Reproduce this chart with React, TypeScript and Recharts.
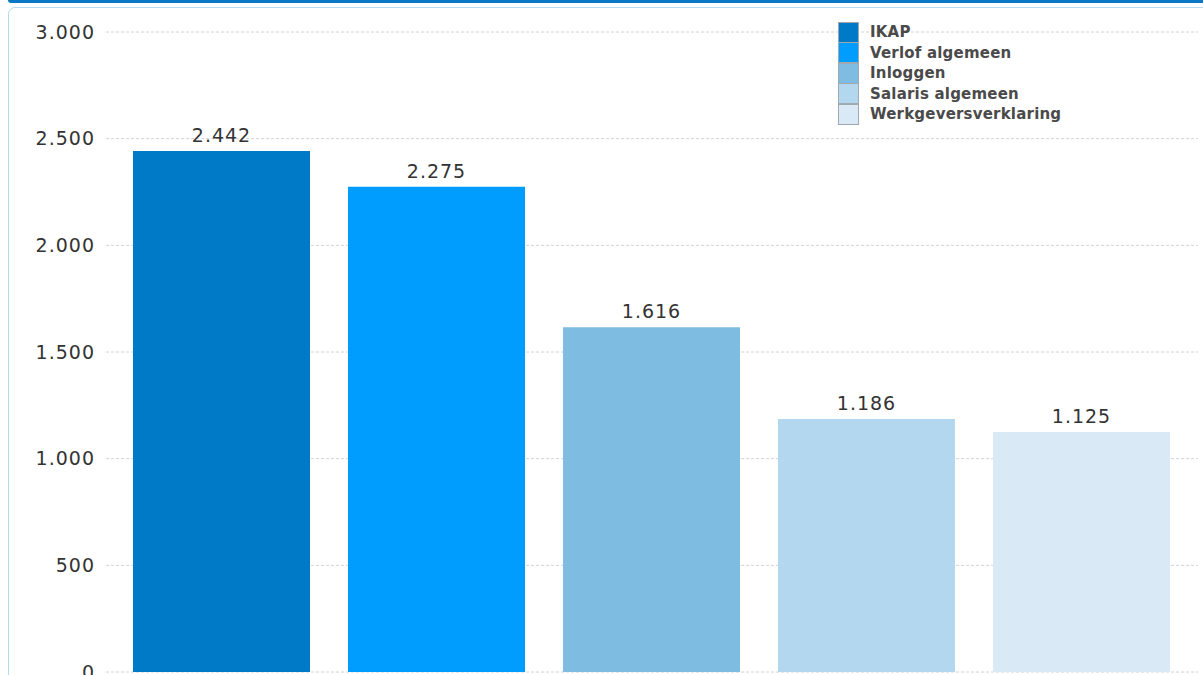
import React from "react";
import { BarChart, Bar, XAxis, YAxis, CartesianGrid, Cell, LabelList } from "recharts";

const categories = ["IKAP", "Verlof algemeen", "Inloggen", "Salaris algemeen", "Werkgeversverklaring"];
const values = [2442, 2275, 1616, 1186, 1125];
const colors = ["#0079c6", "#009dfe", "#7fbce1", "#b3d7ee", "#d9eaf6"];
const yTicks = [0, 500, 1000, 1500, 2000, 2500, 3000];

const data = categories.map((name, i) => ({ name, value: values[i] }));

const fmt = (v: number) => String(v).replace(/\B(?=(\d{3})+(?!\d))/g, ".");

const FONT = "'DejaVu Sans', Verdana, sans-serif";

const LegendBox = () => (
  <div style={{ position: "absolute", left: 838, top: 22, fontFamily: FONT }}>
    {categories.map((c, i) => (
      <div key={c} style={{ display: "flex", alignItems: "center", height: 20.5 }}>
        <div
          style={{
            width: 19,
            height: 19,
            background: colors[i],
            border: "1px solid #a0a8b0",
            marginRight: 11,
          }}
        />
        <span style={{ fontSize: 15, fontWeight: "bold", color: "#4a4a4a", lineHeight: "20px", letterSpacing: 0.2 }}>{c}</span>
      </div>
    ))}
  </div>
);

export default function App() {
  return (
    <div style={{ position: "absolute", left: 0, top: 0, width: 1203, height: 675, overflow: "hidden", background: "#fff" }}>
      <div
        style={{
          position: "absolute",
          left: 8,
          top: 0,
          width: 1200,
          height: 3,
          background: "#0a78c4",
          borderBottomLeftRadius: 6,
        }}
      />
      <div
        style={{
          position: "absolute",
          left: 8,
          top: 7,
          width: 1210,
          height: 720,
          border: "1px solid #b5dbf2",
          borderRadius: 7,
        }}
      />
      <div style={{ position: "absolute", left: 0, top: 0 }}>
        <BarChart
          width={1203}
          height={700}
          data={data}
          margin={{ top: 32, right: 5, bottom: 28, left: 0 }}
          barSize={177}
        >
          <CartesianGrid vertical={false} stroke="#d2d2d2" strokeDasharray="3 2" />
          <XAxis dataKey="name" hide padding={{ left: 8, right: 9 }} />
          <YAxis
            width={106}
            domain={[0, 3000]}
            ticks={yTicks}
            axisLine={false}
            tickLine={false}
            tickSize={6}
            tickMargin={5}
            tickFormatter={fmt}
            tick={{ fill: "#333", fontSize: 19, fontFamily: FONT, letterSpacing: 1 }}
          />
          <Bar dataKey="value" isAnimationActive={false}>
            {data.map((d, i) => (
              <Cell key={d.name} fill={colors[i]} />
            ))}
            <LabelList
              dataKey="value"
              position="top"
              offset={9}
              formatter={(v: number) => fmt(v)}
              style={{ fill: "#333", fontSize: 19, fontFamily: FONT, letterSpacing: 1 }}
            />
          </Bar>
        </BarChart>
      </div>
      <LegendBox />
    </div>
  );
}
